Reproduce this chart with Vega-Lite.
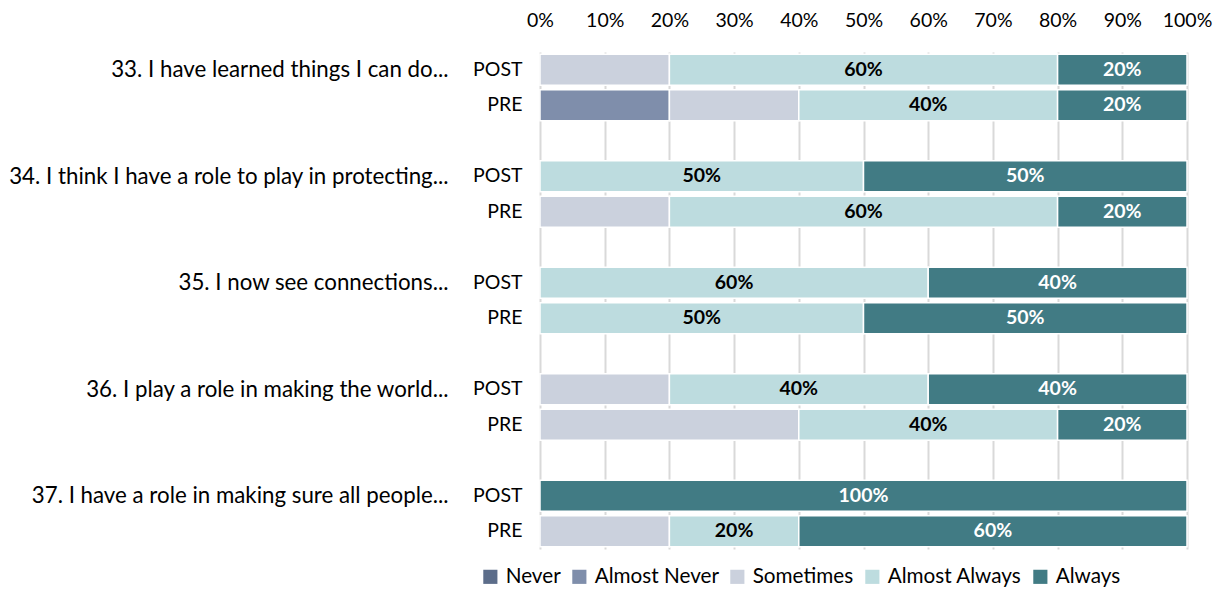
{
  "$schema": "https://vega.github.io/schema/vega-lite/v6.json",
  "width": 647,
  "height": 497,
  "autosize": "none",
  "padding": {"left": 540, "top": 52, "right": 38, "bottom": 42},
  "config": {"font": "Lato", "view": {"stroke": null}},
  "data": {"values": [
    {"row": "33 POST", "cat": "Sometimes", "rank": 3, "pct": 0.2},
    {"row": "33 POST", "cat": "Almost Always", "rank": 4, "pct": 0.6},
    {"row": "33 POST", "cat": "Always", "rank": 5, "pct": 0.2},
    {"row": "33 PRE", "cat": "Almost Never", "rank": 2, "pct": 0.2},
    {"row": "33 PRE", "cat": "Sometimes", "rank": 3, "pct": 0.2},
    {"row": "33 PRE", "cat": "Almost Always", "rank": 4, "pct": 0.4},
    {"row": "33 PRE", "cat": "Always", "rank": 5, "pct": 0.2},
    {"row": "34 POST", "cat": "Almost Always", "rank": 4, "pct": 0.5},
    {"row": "34 POST", "cat": "Always", "rank": 5, "pct": 0.5},
    {"row": "34 PRE", "cat": "Sometimes", "rank": 3, "pct": 0.2},
    {"row": "34 PRE", "cat": "Almost Always", "rank": 4, "pct": 0.6},
    {"row": "34 PRE", "cat": "Always", "rank": 5, "pct": 0.2},
    {"row": "35 POST", "cat": "Almost Always", "rank": 4, "pct": 0.6},
    {"row": "35 POST", "cat": "Always", "rank": 5, "pct": 0.4},
    {"row": "35 PRE", "cat": "Almost Always", "rank": 4, "pct": 0.5},
    {"row": "35 PRE", "cat": "Always", "rank": 5, "pct": 0.5},
    {"row": "36 POST", "cat": "Sometimes", "rank": 3, "pct": 0.2},
    {"row": "36 POST", "cat": "Almost Always", "rank": 4, "pct": 0.4},
    {"row": "36 POST", "cat": "Always", "rank": 5, "pct": 0.4},
    {"row": "36 PRE", "cat": "Sometimes", "rank": 3, "pct": 0.4},
    {"row": "36 PRE", "cat": "Almost Always", "rank": 4, "pct": 0.4},
    {"row": "36 PRE", "cat": "Always", "rank": 5, "pct": 0.2},
    {"row": "37 POST", "cat": "Always", "rank": 5, "pct": 1.0},
    {"row": "37 PRE", "cat": "Sometimes", "rank": 3, "pct": 0.2},
    {"row": "37 PRE", "cat": "Almost Always", "rank": 4, "pct": 0.2},
    {"row": "37 PRE", "cat": "Always", "rank": 5, "pct": 0.6}
  ]},
  "transform": [
    {"stack": "pct", "groupby": ["row"], "sort": [{"field": "rank", "order": "ascending"}], "as": ["x0", "x1"]},
    {"calculate": "(datum.x0 + datum.x1) / 2", "as": "mid"}
  ],
  "layer": [
    {
      "mark": {"type": "bar", "stroke": "white", "strokeWidth": 1.5},
      "encoding": {
        "y": {
          "field": "row", "type": "nominal",
          "scale": {"domain": ["33 POST", "33 PRE", "33 gap", "34 POST", "34 PRE", "34 gap", "35 POST", "35 PRE", "35 gap", "36 POST", "36 PRE", "36 gap", "37 POST", "37 PRE"], "paddingInner": 0.127, "paddingOuter": 0.0635},
          "axis": {"title": null, "domain": false, "ticks": false, "grid": false, "labelFontSize": 19.5, "labelColor": "#000000", "labelPadding": 18, "labelLimit": 0, "labelExpr": "indexof(datum.value, 'gap') >= 0 ? '' : slice(datum.value, 3)"}
        },
        "x": {
          "field": "x0", "type": "quantitative",
          "scale": {"domain": [0, 1]},
          "axis": {"orient": "top", "title": null, "format": ".0%", "values": [0, 0.1, 0.2, 0.3, 0.4, 0.5, 0.6, 0.7, 0.8, 0.9, 1], "domain": false, "ticks": false, "grid": true, "gridColor": "#d9d9d9", "gridWidth": 2, "labelFontSize": 19.5, "labelColor": "#000000", "labelPadding": 22, "labelOverlap": false, "labelFlush": false, "labelBound": false}
        },
        "x2": {"field": "x1"},
        "color": {
          "field": "cat", "type": "nominal",
          "scale": {"domain": ["Never", "Almost Never", "Sometimes", "Almost Always", "Always"], "range": ["#5c6d8a", "#7f8eab", "#cbd1dd", "#bddcdf", "#417b84"]},
          "legend": {"title": null, "orient": "none", "direction": "horizontal", "legendX": -60, "legendY": 514, "symbolType": "square", "symbolSize": 200, "symbolStrokeWidth": 0, "labelFontSize": 20.7, "labelColor": "#000000", "columnPadding": 8, "labelOffset": 5, "labelLimit": 0}
        }
      }
    },
    {
      "transform": [{"filter": "datum.cat === 'Almost Always' || datum.cat === 'Always'"}],
      "mark": {"type": "text", "fontWeight": "bold", "fontSize": 19.5, "baseline": "middle", "align": "center"},
      "encoding": {
        "y": {
          "field": "row", "type": "nominal",
          "scale": {"domain": ["33 POST", "33 PRE", "33 gap", "34 POST", "34 PRE", "34 gap", "35 POST", "35 PRE", "35 gap", "36 POST", "36 PRE", "36 gap", "37 POST", "37 PRE"], "paddingInner": 0.127, "paddingOuter": 0.0635},
          "axis": {"orient": "left", "offset": 74, "title": null, "domain": false, "ticks": false, "grid": false, "labelFontSize": 22.3, "labelColor": "#000000", "labelPadding": 18, "labelLimit": 0, "labelExpr": "datum.value === '33 POST' ? '33. I have learned things I can do...' : datum.value === '34 POST' ? '34. I think I have a role to play in protecting...' : datum.value === '35 POST' ? '35. I now see connections...' : datum.value === '36 POST' ? '36. I play a role in making the world...' : datum.value === '37 POST' ? '37. I have a role in making sure all people...' : ''"}
        },
        "x": {"field": "mid", "type": "quantitative", "scale": {"domain": [0, 1]}},
        "text": {"field": "pct", "type": "quantitative", "format": ".0%"},
        "color": {"condition": {"test": "datum.cat === 'Always'", "value": "#ffffff"}, "value": "#000000"}
      }
    }
  ],
  "resolve": {"scale": {"y": "independent"}}
}
